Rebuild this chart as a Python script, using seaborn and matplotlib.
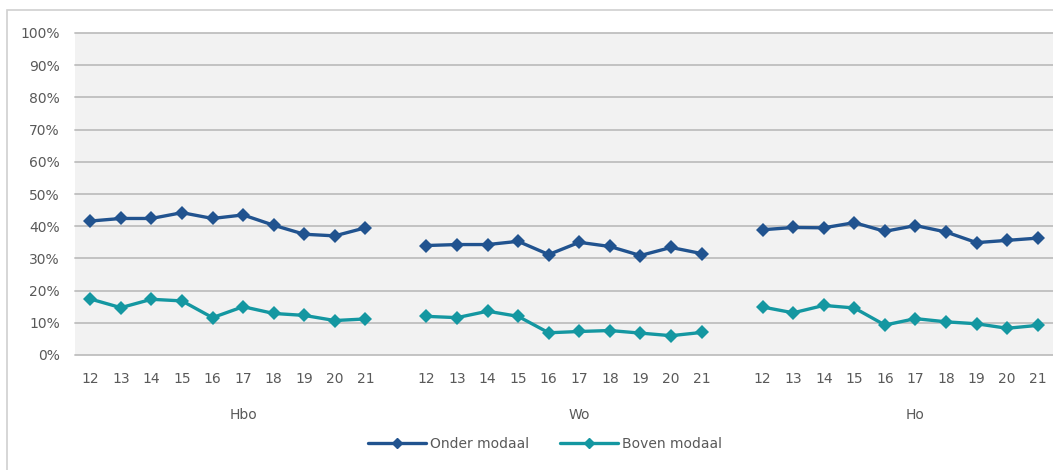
import matplotlib
matplotlib.use("Agg")
import matplotlib.pyplot as plt
import matplotlib.patches as mpatches
import seaborn as sns
import pandas as pd
import numpy as np

# data
groepen = ["Hbo", "Wo", "Ho"]
jaren = ["12", "13", "14", "15", "16", "17", "18", "19", "20", "21"]
series = ["Onder modaal", "Boven modaal"]

hbo_onder = [41.6, 42.4, 42.4, 44.2, 42.4, 43.5, 40.3, 37.5, 37.0, 39.5]
hbo_boven = [17.4, 14.7, 17.3, 16.8, 11.6, 15.0, 12.9, 12.3, 10.7, 11.2]
wo_onder = [34.0, 34.3, 34.3, 35.3, 31.2, 35.0, 33.7, 30.9, 33.4, 31.5]
wo_boven = [12.0, 11.6, 13.6, 12.0, 6.9, 7.3, 7.6, 6.8, 6.0, 7.0]
ho_onder = [38.9, 39.6, 39.5, 41.1, 38.4, 40.2, 38.2, 34.9, 35.6, 36.3]
ho_boven = [14.9, 13.1, 15.4, 14.6, 9.3, 11.3, 10.3, 9.7, 8.3, 9.2]

waarden = {
    ("Hbo", "Onder modaal"): hbo_onder, ("Hbo", "Boven modaal"): hbo_boven,
    ("Wo", "Onder modaal"): wo_onder, ("Wo", "Boven modaal"): wo_boven,
    ("Ho", "Onder modaal"): ho_onder, ("Ho", "Boven modaal"): ho_boven,
}

rows = []
for gi, g in enumerate(groepen):
    for s in series:
        for j, jr in enumerate(jaren):
            # one blank category between groups
            rows.append({"pos": gi * 11 + j, "groep": g, "serie": s, "jaar": jr,
                         "waarde": waarden[(g, s)][j] / 100})
df = pd.DataFrame(rows)

kleuren = {"Onder modaal": "#21538F", "Boven modaal": "#1497A1"}
tekst = "#595959"

sns.set_style("white")
plt.rcParams["font.family"] = ["DejaVu Sans"]

fig = plt.figure(figsize=(10.53, 4.70), dpi=100)
ax = fig.add_axes([75 / 1053, 1 - 355 / 470, 1 - 75 / 1053, (355 - 33) / 470])
ax.set_facecolor("#F2F2F2")

sns.lineplot(data=df, x="pos", y="waarde", hue="serie", units="groep", estimator=None,
             palette=kleuren, marker="D", markersize=7.5, markeredgewidth=0,
             linewidth=2.4, legend=False, ax=ax, zorder=3)

ax.set_xlim(-0.5, 31.5)
ax.set_ylim(0, 1)
ax.set_yticks(np.arange(0, 1.01, 0.1))
ax.set_yticklabels([f"{int(round(v * 100))}%" for v in np.arange(0, 1.01, 0.1)])
for v in np.arange(0, 1.01, 0.1):
    ax.axhline(v, color="#BFBFBF", linewidth=1.3, zorder=1, clip_on=False)

pos = sorted(df["pos"].unique())
ax.set_xticks(pos)
ax.set_xticklabels(jaren * 3)
ax.tick_params(axis="both", length=0, labelsize=10, labelcolor=tekst)
ax.tick_params(axis="y", pad=11)
ax.tick_params(axis="x", pad=12)
ax.set_xlabel("")
ax.set_ylabel("")
for sp in ax.spines.values():
    sp.set_visible(False)

for gi, g in enumerate(groepen):
    cx = np.mean(df.loc[df["groep"] == g, "pos"].unique()) + 0.5
    ax.text(cx, -0.185, g, transform=ax.get_xaxis_transform(), ha="center", va="center",
            fontsize=10, color=tekst)

handles = [plt.Line2D([], [], color=kleuren[s], linewidth=2.4, marker="D", markersize=5)
           for s in series]
fig.legend(handles, series, loc="center", bbox_to_anchor=(545 / 1053, 1 - 444 / 470), ncol=2,
           frameon=False, fontsize=10, labelcolor=tekst, handlelength=4.2, handletextpad=0.3,
           columnspacing=2.2)

# outer chart border
fig.patches.append(mpatches.Rectangle((7 / 1053, -0.1), 1.1, 1.1 - 10 / 470,
                                      transform=fig.transFigure, fill=False,
                                      edgecolor="#D0D0D0", linewidth=1.2))

fig.savefig("out.png", dpi=100)
